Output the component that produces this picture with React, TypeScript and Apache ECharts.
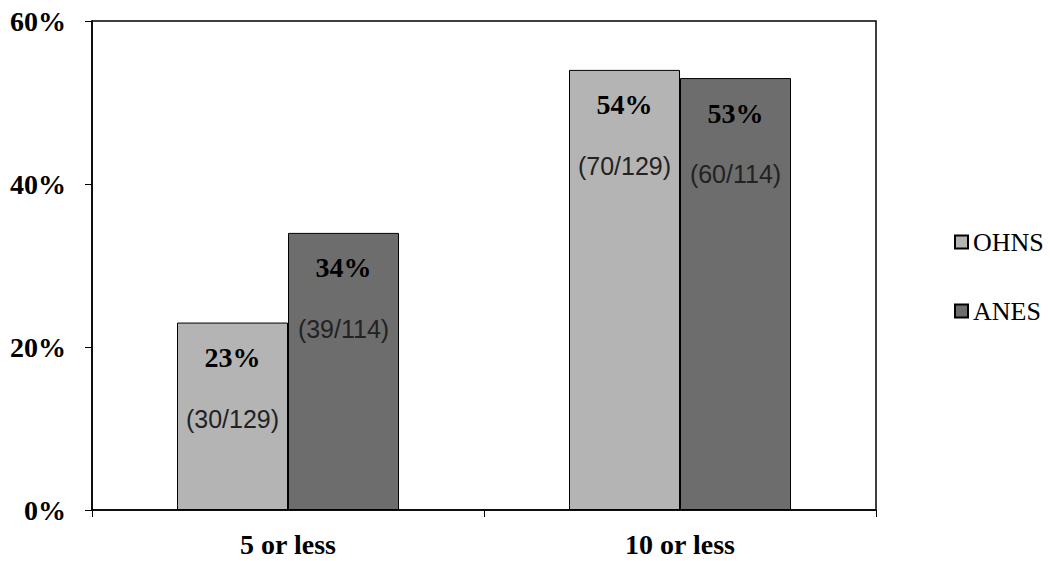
import React, { useEffect, useRef } from "react";
import * as echarts from "echarts";

const categories = ["5 or less", "10 or less"];
const seriesNames = ["OHNS", "ANES"];
const ohnsValues = [23, 54];
const anesValues = [34, 53];
const ohnsFractions = ["(30/129)", "(70/129)"];
const anesFractions = ["(39/114)", "(60/114)"];
const yTicks = { min: 0, max: 60, interval: 20 };
const colors = ["#b4b4b4", "#6d6d6d"];

const serif = "'Liberation Serif', 'Times New Roman', serif";
const sans = "'Liberation Sans', Arial, sans-serif";

function makeSeries(name: string, values: number[], fractions: string[], color: string) {
  return {
    name,
    type: "bar",
    barWidth: 111,
    barGap: "0%",
    data: values.map((v, i) => ({ value: v, frac: fractions[i] })),
    itemStyle: { color, borderColor: "#000", borderWidth: 1 },
    label: {
      show: true,
      position: "insideTop",
      distance: 21,
      formatter: (p: any) => `{p|${p.value}%}\n{g| }\n{f|${p.data.frac}}`,
      rich: {
        p: { fontFamily: serif, fontWeight: "bold", fontSize: 28, color: "#000", lineHeight: 28 },
        g: { fontSize: 10, lineHeight: 34, height: 34 },
        f: { fontFamily: sans, fontSize: 25, color: "#222", lineHeight: 26 },
      },
    },
  };
}

export default function App() {
  const ref = useRef<HTMLDivElement>(null);
  useEffect(() => {
    document.body.style.margin = "0";
    const chart = echarts.init(ref.current!, null, { renderer: "svg" });
    chart.setOption({
      animation: false,
      backgroundColor: "#fff",
      grid: { left: 92, right: 174, top: 21, bottom: 51, show: true, borderColor: "#000", borderWidth: 1.5 },
      legend: {
        orient: "vertical",
        left: 949,
        top: 224,
        itemWidth: 13,
        itemHeight: 13,
        itemGap: 43,
        icon: "rect",
        textStyle: { fontFamily: serif, fontSize: 26, color: "#000" },
        data: seriesNames,
      },
      xAxis: {
        type: "category",
        data: categories,
        axisLine: { lineStyle: { color: "#000", width: 1.5 } },
        axisTick: { show: true, length: 7, lineStyle: { color: "#000" } },
        axisLabel: { margin: 20, fontFamily: serif, fontWeight: "bold", fontSize: 28, color: "#000" },
      },
      yAxis: {
        type: "value",
        min: yTicks.min,
        max: yTicks.max,
        interval: yTicks.interval,
        axisLine: { show: true, lineStyle: { color: "#000", width: 1.5 } },
        axisTick: { show: true, length: 7, lineStyle: { color: "#000" } },
        splitLine: { show: false },
        axisLabel: {
          formatter: "{value}%",
          margin: 26,
          fontFamily: serif,
          fontWeight: "bold",
          fontSize: 28,
          color: "#000",
        },
      },
      series: [
        makeSeries(seriesNames[0], ohnsValues, ohnsFractions, colors[0]),
        makeSeries(seriesNames[1], anesValues, anesFractions, colors[1]),
      ],
    });
    return () => chart.dispose();
  }, []);
  return <div ref={ref} style={{ width: 1050, height: 561 }} />;
}
